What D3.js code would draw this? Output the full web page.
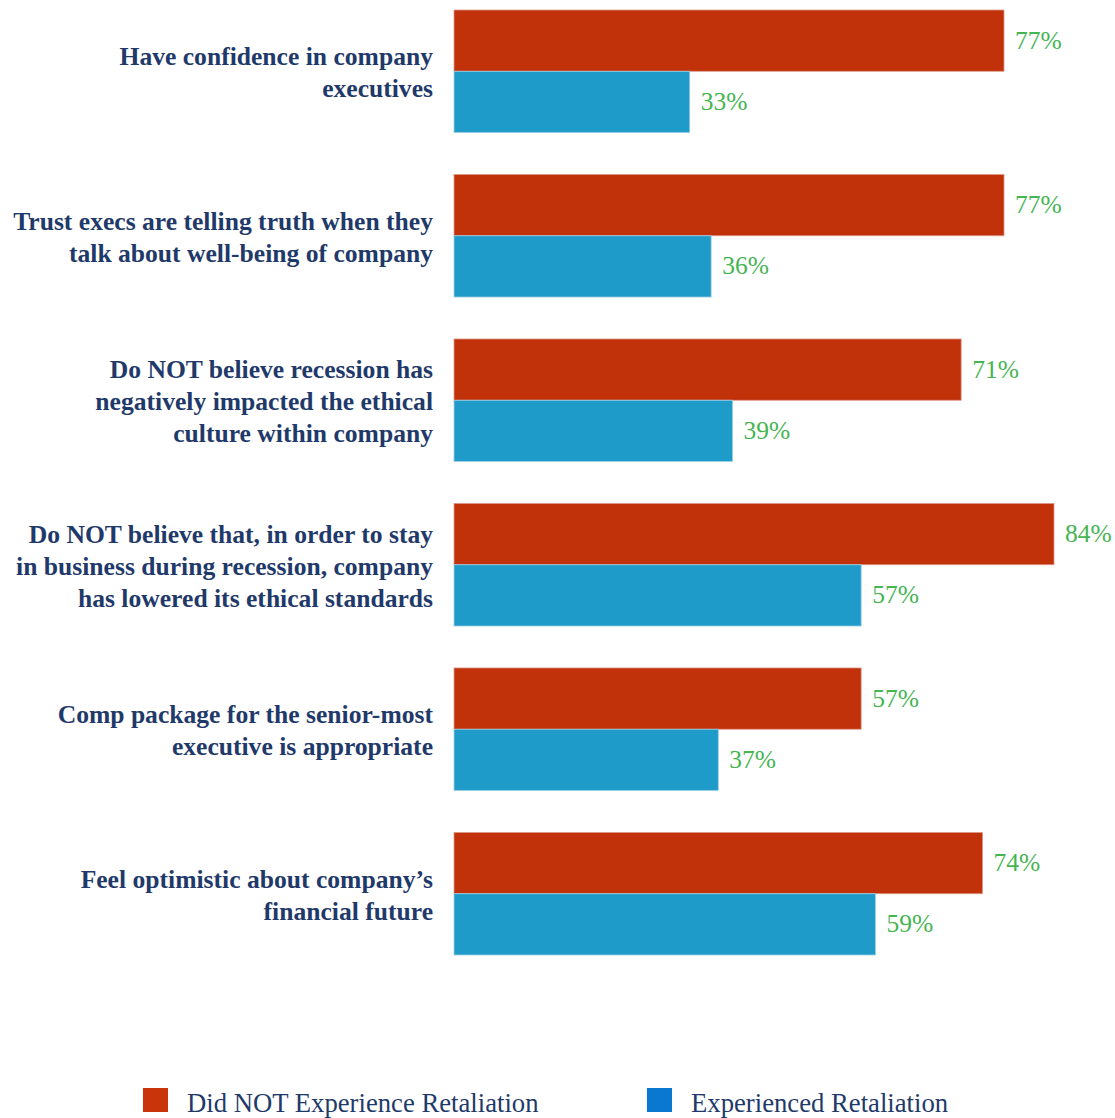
<!DOCTYPE html>
<html>
<head>
<meta charset="utf-8">
<script src="https://cdn.jsdelivr.net/npm/d3@7"></script>
<style>
  html, body { margin: 0; padding: 0; background: #ffffff; }
  svg { display: block; }
</style>
</head>
<body>
<svg id="chart" width="1115" height="1118"></svg>
<script>
// Survey statements (each may wrap over several lines)
const categories = [
  ["Have confidence in company", "executives"],
  ["Trust execs are telling truth when they", "talk about well-being of company"],
  ["Do NOT believe recession has", "negatively impacted the ethical", "culture within company"],
  ["Do NOT believe that, in order to stay", "in business during recession, company", "has lowered its ethical standards"],
  ["Comp package for the senior-most", "executive is appropriate"],
  ["Feel optimistic about company\u2019s", "financial future"]
];
const seriesNames = ["Did NOT Experience Retaliation", "Experienced Retaliation"];
const didNotExperience = [77, 77, 71, 84, 57, 74];
const experienced = [33, 36, 39, 57, 37, 59];

const barColors = ["#c1310a", "#1f9bc9"];
const legendColors = ["#c9340a", "#0a78d1"];

const svg = d3.select("#chart");
const ids = categories.map((d, i) => i);
const values = [didNotExperience, experienced];

const x = d3.scaleLinear().domain([0, 100]).range([454, 454 + 714.3]);
const y = d3.scaleBand().domain(ids).range([10, 955]).paddingInner(0.255).paddingOuter(0);
const ySub = d3.scaleBand().domain([0, 1]).range([0, y.bandwidth()]).padding(0);

const groups = svg.selectAll("g.group")
  .data(ids)
  .join("g")
  .attr("class", "group")
  .attr("transform", i => `translate(0,${y(i)})`);

// Bars
groups.selectAll("rect")
  .data(i => [0, 1].map(s => ({ s, v: values[s][i] })))
  .join("rect")
  .attr("x", x(0))
  .attr("y", d => ySub(d.s))
  .attr("width", d => x(d.v) - x(0))
  .attr("height", ySub.bandwidth())
  .attr("fill", d => barColors[d.s])
  .attr("stroke", d => d.s === 0 ? "#dc9a8a" : "#9fd0e4")
  .attr("stroke-width", 0.8);

// Value labels
groups.selectAll("text.val")
  .data(i => [0, 1].map(s => ({ s, v: values[s][i] })))
  .join("text")
  .attr("class", "val")
  .attr("x", d => x(d.v) + 11)
  .attr("y", d => ySub(d.s) + ySub.bandwidth() / 2 + 8)
  .attr("fill", "#45b552")
  .style("font-family", "'Liberation Serif', 'DejaVu Serif', serif")
  .style("font-size", "25.5px")
  .text(d => d.v + "%");

// Category labels
const lineH = 32;
groups.each(function(i) {
  const lines = categories[i];
  const cy = y.bandwidth() / 2;
  const t = d3.select(this).append("text")
    .attr("text-anchor", "end")
    .attr("fill", "#1f3a6a")
    .style("font-family", "'Liberation Serif', 'DejaVu Serif', serif")
    .style("font-weight", "bold")
    .style("font-size", "25.6px");
  lines.forEach((ln, k) => {
    t.append("tspan")
      .attr("x", 433)
      .attr("y", cy + (k - (lines.length - 1) / 2) * lineH + 10)
      .text(ln);
  });
});

// Legend
const legendX = [143, 647];
const legend = svg.selectAll("g.legend")
  .data(seriesNames)
  .join("g")
  .attr("class", "legend")
  .attr("transform", (d, i) => `translate(${legendX[i]},1088)`);
legend.append("rect")
  .attr("width", 25).attr("height", 24)
  .attr("fill", (d, i) => legendColors[i]);
legend.append("text")
  .attr("x", 44).attr("y", 24)
  .attr("fill", "#1f3a6a")
  .style("font-family", "'Liberation Serif', 'DejaVu Serif', serif")
  .style("font-size", "26.7px")
  .text(d => d);
</script>
</body>
</html>
